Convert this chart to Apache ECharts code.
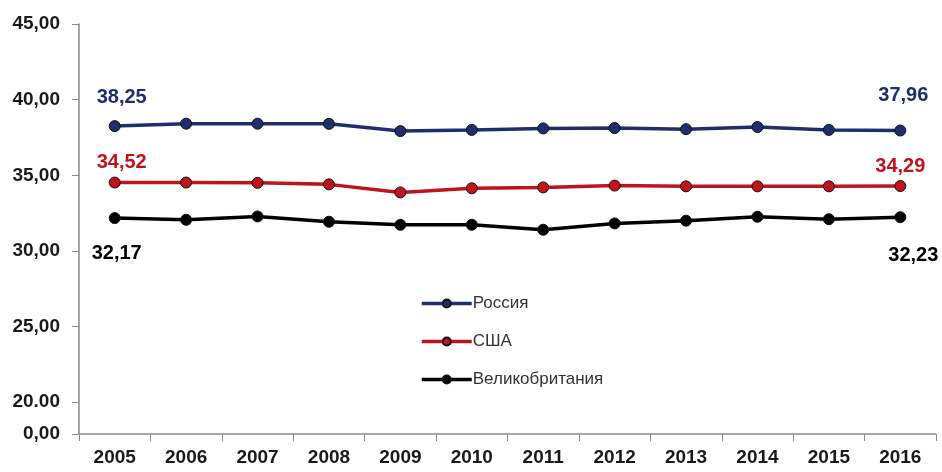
<!DOCTYPE html>
<html>
<head>
<meta charset="utf-8">
<script src="https://cdn.jsdelivr.net/npm/echarts@6/dist/echarts.min.js"></script>
<style>
  html, body { margin: 0; padding: 0; background: #fff; }
  #chart { width: 942px; height: 472px; }
</style>
</head>
<body>
<div id="chart"></div>
<script>
// Years on the horizontal axis
const years = ['2005','2006','2007','2008','2009','2010','2011','2012','2013','2014','2015','2016'];

// Series values
const russia = [38.25, 38.41, 38.41, 38.40, 37.92, 38.00, 38.10, 38.12, 38.05, 38.19, 38.00, 37.96];
const usa    = [34.52, 34.52, 34.50, 34.40, 33.87, 34.14, 34.20, 34.32, 34.27, 34.27, 34.27, 34.29];
const uk     = [32.17, 32.06, 32.28, 31.93, 31.73, 31.73, 31.40, 31.82, 32.00, 32.26, 32.10, 32.23];

// Tick values of the broken value axis; the lowest one stands for zero
const yTicks = [17.9, 20, 25, 30, 35, 40, 45];

const FONT = '"Liberation Sans", Arial, sans-serif';

function fmt(v) {
  return v.toFixed(2).replace('.', ',');
}

function tickLabel(v) {
  if (v < 19) return '0,00';
  if (v === 20) return '20.00';
  return fmt(v);
}

// Only the first and last points carry a value label
function withEndLabels(values, color, firstOffset, lastOffset) {
  const last = values.length - 1;
  return values.map((v, i) => {
    if (i !== 0 && i !== last) return v;
    return {
      value: v,
      label: {
        show: true,
        position: 'inside',
        offset: i === 0 ? firstOffset : lastOffset,
        formatter: p => fmt(p.value),
        color: color,
        fontFamily: FONT,
        fontWeight: 'bold',
        fontSize: 20
      }
    };
  });
}

function lineSeries(name, values, color, firstOffset, lastOffset) {
  return {
    name: name,
    type: 'line',
    data: withEndLabels(values, color, firstOffset, lastOffset),
    symbol: 'circle',
    symbolSize: 11,
    lineStyle: { color: color, width: 3.5 },
    itemStyle: { color: color, borderColor: '#111', borderWidth: 1 },
    emphasis: { disabled: true },
    z: 3
  };
}

const chart = echarts.init(document.getElementById('chart'), null, { renderer: 'canvas' });

chart.setOption({
  animation: false,
  backgroundColor: '#ffffff',
  grid: { left: 79, right: 6, top: 24, bottom: 38, containLabel: false },
  legend: {
    orient: 'vertical',
    left: 415,
    top: 290,
    itemWidth: 50,
    itemHeight: 10,
    itemGap: 21,
    lineStyle: { width: 3.5 },
    textStyle: { fontFamily: FONT, fontSize: 17, color: '#333', padding: [0, 0, 0, -4] },
    data: ['Россия', 'США', 'Великобритания']
  },
  xAxis: {
    type: 'category',
    data: years,
    boundaryGap: true,
    axisLine: { lineStyle: { color: '#8a8a8a', width: 1.5 } },
    axisTick: { show: true, length: 7, lineStyle: { color: '#8a8a8a' } },
    axisLabel: {
      margin: 14,
      fontFamily: FONT,
      fontWeight: 'bold',
      fontSize: 19,
      color: '#1a1a1a'
    }
  },
  yAxis: {
    type: 'value',
    min: 17.9,
    max: 45,
    axisLine: { show: true, lineStyle: { color: '#8a8a8a', width: 1.5 } },
    axisTick: {
      show: true,
      length: 7,
      customValues: yTicks,
      lineStyle: { color: '#8a8a8a' }
    },
    splitLine: { show: false },
    axisLabel: {
      customValues: yTicks,
      margin: 19,
      formatter: tickLabel,
      fontFamily: FONT,
      fontWeight: 'bold',
      fontSize: 19,
      color: '#1a1a1a'
    }
  },
  series: [
    lineSeries('Россия', russia, '#1f2f6e', [7, -29], [3, -35]),
    lineSeries('США', usa, '#c0141c', [7, -20], [0, -20]),
    lineSeries('Великобритания', uk, '#000000', [2, 35], [13, 38])
  ]
});
</script>
</body>
</html>
